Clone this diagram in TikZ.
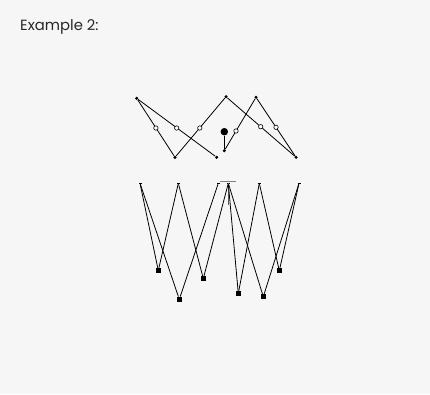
\documentclass[tikz,border=0pt]{standalone}
\usepackage{fontspec}
\setmainfont{Poppins}
\begin{document}
\begin{tikzpicture}[x=1pt,y=-1pt,
  dotn/.style={circle,fill=black,inner sep=0pt,minimum size=3.4pt},
  openn/.style={circle,draw=black,fill=white,line width=0.6pt,inner sep=0pt,minimum size=4.4pt},
  bign/.style={circle,fill=black,inner sep=0pt,minimum size=7.5pt},
  topn/.style={rectangle,fill=black,inner sep=0pt,minimum width=3pt,minimum height=1.5pt},
  sqn/.style={rectangle,fill=black,inner sep=0pt,minimum size=5pt},
  edge/.style={line width=0.8pt,black}]
\fill[fill={rgb,255:red,246;green,246;blue,246}] (0,0) rectangle (430,394);
\useasboundingbox (0,0) rectangle (430,394);
\node[anchor=base west,inner sep=0pt,text={rgb,255:red,40;green,40;blue,40},font=\fontsize{14.8}{17}\selectfont] (title) at (20,30.5) {Example 2:};
% upper graph
\node[dotn] (A) at (136.7,98.3) {};
\node[dotn] (B) at (175,157.3) {};
\node[dotn] (C) at (216.7,157.3) {};
\node[dotn] (D) at (226,96.7) {};
\node[dotn] (E) at (224.3,150.7) {};
\node[dotn] (F) at (256,97.3) {};
\node[dotn] (G) at (296,157.3) {};
\node[bign] (H) at (224.3,131.7) {};
\draw[edge] (A) -- (B);
\draw[edge] (A) -- (C);
\draw[edge] (B) -- (D);
\draw[edge] (D) -- (G);
\draw[edge] (E) -- (F);
\draw[edge] (F) -- (G);
\draw[edge] (H) -- (E);
\node[openn] (o1) at (155.9,128) {};
\node[openn] (o2) at (176.7,128) {};
\node[openn] (o3) at (199.8,128) {};
\node[openn] (o4) at (236,131) {};
\node[openn] (o5) at (260.7,126.7) {};
\node[openn] (o6) at (276,127.3) {};
% lower graph
\node[topn] (T1) at (140,183.3) {};
\node[topn] (T2) at (178.3,183.3) {};
\node[topn] (T3) at (218.3,183.3) {};
\node[topn] (T4) at (228.3,183.3) {};
\node[topn] (T5) at (259.3,183.3) {};
\node[topn] (T6) at (299,183.3) {};
\node[sqn] (S1) at (158.3,270.5) {};
\node[sqn] (S2) at (179.3,299.3) {};
\node[sqn] (S3) at (203.3,278.5) {};
\node[sqn] (S4) at (238.3,293.5) {};
\node[sqn] (S5) at (263.3,296.7) {};
\node[sqn] (S6) at (279.3,270.7) {};
\coordinate (capL) at (220,181.7);
\coordinate (capR) at (235.7,181.7);
\coordinate (stem) at (228.3,205);
\draw[line width=0.8pt,gray] (capL) -- (capR);
\draw[line width=0.6pt,gray!70!black] (T4.center) -- (stem);
\draw[edge] (T1) -- (S1);
\draw[edge] (T1) -- (S2);
\draw[edge] (T2) -- (S1);
\draw[edge] (T2) -- (S3);
\draw[edge] (T3) -- (S2);
\draw[edge] (T4) -- (S3);
\draw[edge] (T4) -- (S4);
\draw[edge] (T4) -- (S5);
\draw[edge] (T5) -- (S4);
\draw[edge] (T5) -- (S6);
\draw[edge] (T6) -- (S6);
\draw[edge] (T6) -- (S5);
\end{tikzpicture}
\end{document}
